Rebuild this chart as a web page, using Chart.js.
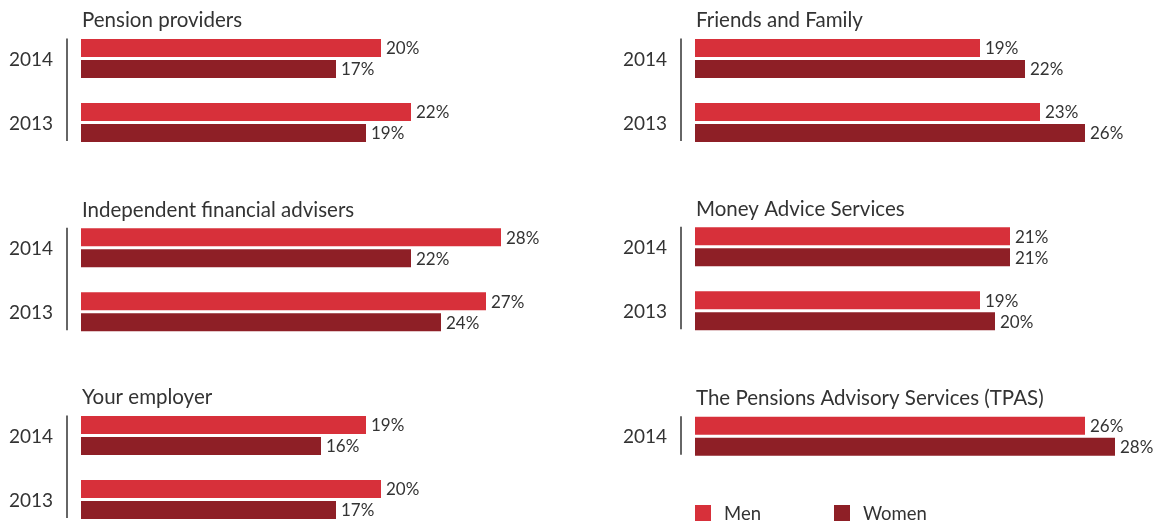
<!DOCTYPE html>
<html>
<head>
<meta charset="utf-8">
<script src="https://cdn.jsdelivr.net/npm/chart.js@4/dist/chart.umd.min.js"></script>
<style>
    html, body { margin: 0; padding: 0; background: #fff; overflow: hidden; }
    body { width: 1168px; height: 522px; position: relative; font-family: Lato, "Noto Sans", sans-serif; color: #333; }
    canvas { position: absolute; }
    .legend { position: absolute; top: 505px; font-size: 18.5px; line-height: 16px; }
    .legend span.box { position: absolute; top: 0; width: 16px; height: 16px; }
    .legend span.lbl { position: absolute; top: 0; white-space: nowrap; }
</style>
</head>
<body>
<canvas id="c0"></canvas>
<canvas id="c1"></canvas>
<canvas id="c2"></canvas>
<canvas id="c3"></canvas>
<canvas id="c4"></canvas>
<canvas id="c5"></canvas>
<div class="legend" id="legend"></div>

<script>
// data (percent)
const years = ['2014', '2013'];
const tpasYears = ['2014'];

const pensionMen = [20, 22];
const pensionWomen = [17, 19];
const ifaMen = [28, 27];
const ifaWomen = [22, 24];
const employerMen = [19, 20];
const employerWomen = [16, 17];
const friendsMen = [19, 23];
const friendsWomen = [22, 26];
const moneyMen = [21, 19];
const moneyWomen = [21, 20];
const tpasMen = [26];
const tpasWomen = [28];

const seriesNames = ['Men', 'Women'];
const seriesColors = ['#d7303a', '#8e1f26'];

const panels = [
    { title: 'Pension providers', labels: years, men: pensionMen, women: pensionWomen },
    { title: 'Independent financial advisers', labels: years, men: ifaMen, women: ifaWomen },
    { title: 'Your employer', labels: years, men: employerMen, women: employerWomen },
    { title: 'Friends and Family', labels: years, men: friendsMen, women: friendsWomen },
    { title: 'Money Advice Services', labels: years, men: moneyMen, women: moneyWomen },
    { title: 'The Pensions Advisory Services (TPAS)', labels: tpasYears, men: tpasMen, women: tpasWomen }
];

// where each panel sits on the page: canvas left/top, and top of the plot area
const placement = [
    { left: 0,   top: 0,   plotTop: 26.5 },
    { left: 0,   top: 190, plotTop: 215.8 },
    { left: 0,   top: 378, plotTop: 403.5 },
    { left: 614, top: 0,   plotTop: 26.5 },
    { left: 614, top: 190, plotTop: 214.8 },
    { left: 614, top: 378, plotTop: 404.2 }
];

const CANVAS_W = 554;
const CANVAS_H = 170;
const BAND = 64;          // height of one year group
const TEXT = '#333';

// title, year labels, the little vertical axis and value labels
const panelDecor = {
    id: 'panelDecor',
    afterDatasetsDraw(chart, args, opts) {
        const ctx = chart.ctx;
        const area = chart.chartArea;
        const yScale = chart.scales.y;
        ctx.save();

        // title
        ctx.fillStyle = TEXT;
        ctx.font = '20.5px Lato, "Noto Sans", sans-serif';
        ctx.textAlign = 'left';
        ctx.textBaseline = 'alphabetic';
        ctx.fillText(opts.title, area.left + 1, area.top + 0.8);

        // year labels
        const n = chart.data.labels.length;
        ctx.font = '19px Lato, "Noto Sans", sans-serif';
        ctx.textAlign = 'right';
        ctx.textBaseline = 'middle';
        chart.data.labels.forEach((lab, i) => {
            ctx.fillText(lab, area.left - 28, yScale.getPixelForValue(i) + 1);
        });

        // vertical line
        const yFirst = yScale.getPixelForValue(0);
        const yLast = yScale.getPixelForValue(n - 1);
        ctx.strokeStyle = TEXT;
        ctx.lineWidth = 1.5;
        ctx.beginPath();
        ctx.moveTo(area.left - 14, yFirst - 20);
        ctx.lineTo(area.left - 14, yLast + 18.5);
        ctx.stroke();

        // value labels
        ctx.font = '17px Lato, "Noto Sans", sans-serif';
        ctx.textAlign = 'left';
        chart.data.datasets.forEach((ds, di) => {
            chart.getDatasetMeta(di).data.forEach((bar, i) => {
                ctx.fillText(ds.data[i] + '%', bar.x + 5, bar.y + 1);
            });
        });
        ctx.restore();
    }
};

panels.forEach((p, idx) => {
    const pos = placement[idx];
    const canvas = document.getElementById('c' + idx);
    canvas.width = CANVAS_W;
    canvas.height = CANVAS_H;
    canvas.style.left = pos.left + 'px';
    canvas.style.top = pos.top + 'px';

    const padTop = pos.plotTop - pos.top;
    const padBottom = CANVAS_H - padTop - p.labels.length * BAND;

    new Chart(canvas.getContext('2d'), {
        type: 'bar',
        data: {
            labels: p.labels,
            datasets: [
                { label: seriesNames[0], data: p.men, backgroundColor: seriesColors[0] },
                { label: seriesNames[1], data: p.women, backgroundColor: seriesColors[1] }
            ]
        },
        options: {
            indexAxis: 'y',
            responsive: false,
            animation: false,
            categoryPercentage: 0.65625,
            barPercentage: 0.857,
            borderWidth: 0,
            layout: {
                padding: { left: 81, right: 23, top: padTop, bottom: padBottom }
            },
            scales: {
                x: { display: false, min: 0, max: 30 },
                y: { display: false }
            },
            plugins: {
                legend: { display: false },
                tooltip: { enabled: false },
                panelDecor: { title: p.title }
            }
        },
        plugins: [panelDecor]
    });
});

// legend under the TPAS panel
const legendLeft = [695, 834];
const $legend = document.getElementById('legend');
seriesNames.forEach((name, i) => {
    $legend.insertAdjacentHTML('beforeend',
        `<span class="box" style="left:${legendLeft[i]}px;background:${seriesColors[i]}"></span>` +
        `<span class="lbl" style="left:${legendLeft[i] + 29}px">${name}</span>`);
});
</script>
</body>
</html>
